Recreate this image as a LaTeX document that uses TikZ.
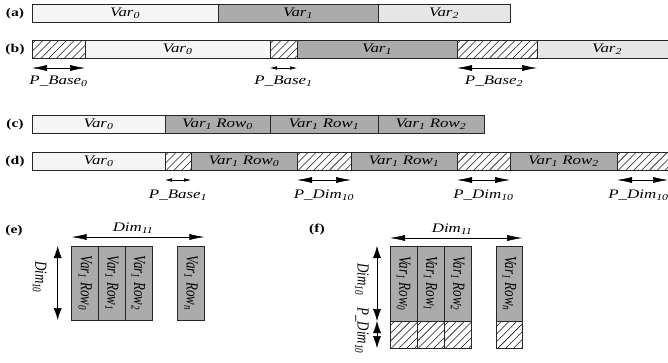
\documentclass[tikz,border=0pt]{standalone}
\usepackage{graphicx}
\usepackage{fontspec}
\setmainfont[FakeStretch=1.3]{Liberation Serif}
\newfontfamily\rotfont{Liberation Serif}
\usetikzlibrary{arrows.meta,calc}
\definecolor{varA}{HTML}{F5F5F5}
\definecolor{varB}{HTML}{ABABAB}
\definecolor{varC}{HTML}{E6E6E6}
\newcommand\rtxt[1]{\scalebox{1}[1.3]{\rotfont\itshape #1}}
\newcommand\hatchit[1]{%
  \begin{scope}
    \clip (#1.south west) rectangle (#1.north east);
    \foreach \k in {-100,-92.2,...,120}{\draw[hline] ($(#1.south west)+(\k,0)$) -- ++(110,-110);}
  \end{scope}
  \draw[cellborder] (#1.south west) rectangle (#1.north east);}
\tikzset{
  cellborder/.style={draw=black!85, line width=0.6pt},
  hline/.style={line width=0.55pt, black!90},
  cell/.style={cellborder, minimum height=18pt, inner sep=0pt, outer sep=0pt, anchor=north west, font=\fontsize{13}{15}\selectfont\itshape},
  v0/.style={cell, fill=varA},
  v1/.style={cell, fill=varB},
  v2/.style={cell, fill=varC},
  hatch/.style={cell, fill=white},
  col/.style={cell, fill=varB},
  lbl/.style={font=\fontsize{13}{15}\selectfont\itshape, inner sep=1pt},
  rlbl/.style={inner sep=1pt, rotate=-90, font=\fontsize{13}{15}\selectfont},
  tag/.style={font=\fontsize{12}{14}\selectfont\bfseries, inner sep=0pt},
  harrow/.style={line width=0.5pt, {Latex[length=15pt,width=6pt]}-{Latex[length=15pt,width=6pt]}},
  sarrow/.style={line width=0.5pt, {Latex[length=7pt,width=3.5pt]}-{Latex[length=7pt,width=3.5pt]}},
  varrow/.style={line width=0.5pt, {Latex[length=12pt,width=8pt]}-{Latex[length=12pt,width=8pt]}},
}
\begin{document}
\begin{tikzpicture}[x=1pt,y=-1pt]
\fill[white] (0,0) rectangle (668,362);
\useasboundingbox (0,0) rectangle (668,362);
% (a)
\node[tag] (ta) at (15,14) {(a)};
\node[v0, minimum width=186pt] (a0) at (32,4) {Var\textsubscript{0}};
\node[v1, minimum width=160pt] (a1) at (218,4) {Var\textsubscript{1}};
\node[v2, minimum width=132pt] (a2) at (378,4) {Var\textsubscript{2}};
% (b)
\node[tag] (tb) at (15,50) {(b)};
\node[hatch, minimum width=53pt] (bh0) at (32,40) {};
\node[v0, minimum width=185pt] (b0) at (85,40) {Var\textsubscript{0}};
\node[hatch, minimum width=27pt] (bh1) at (270,40) {};
\node[v1, minimum width=160pt] (b1) at (297,40) {Var\textsubscript{1}};
\node[hatch, minimum width=80pt] (bh2) at (457,40) {};
\node[v2, minimum width=140pt] (b2) at (537,40) {Var\textsubscript{2}};
\hatchit{bh0}\hatchit{bh1}\hatchit{bh2}
\draw[harrow] ([yshift=-10pt]bh0.south west) -- node[lbl, below=7pt] (pb0) {P\_Base\textsubscript{0}} ([yshift=-10pt]bh0.south east);
\draw[sarrow] ([yshift=-10pt]bh1.south west) -- node[lbl, below=7pt] (pb1) {P\_Base\textsubscript{1}} ([yshift=-10pt]bh1.south east);
\draw[harrow] ([yshift=-10pt]bh2.south west) -- node[lbl, below=7pt, xshift=-3pt] (pb2) {P\_Base\textsubscript{2}} ([yshift=-10pt]bh2.south east);
% (c)
\node[tag] (tc) at (15,125) {(c)};
\node[v0, minimum width=133pt] (c0) at (32,115) {Var\textsubscript{0}};
\node[v1, minimum width=105pt] (c1) at (165,115) {Var\textsubscript{1} Row\textsubscript{0}};
\node[v1, minimum width=108pt] (c2) at (270,115) {Var\textsubscript{1} Row\textsubscript{1}};
\node[v1, minimum width=106pt] (c3) at (378,115) {Var\textsubscript{1} Row\textsubscript{2}};
% (d)
\node[tag] (td) at (15,162) {(d)};
\node[v0, minimum width=133pt] (d0) at (32,152) {Var\textsubscript{0}};
\node[hatch, minimum width=26pt] (dh1) at (165,152) {};
\node[v1, minimum width=106pt] (d1) at (191,152) {Var\textsubscript{1} Row\textsubscript{0}};
\node[hatch, minimum width=54pt] (dh2) at (297,152) {};
\node[v1, minimum width=106pt] (d2) at (351,152) {Var\textsubscript{1} Row\textsubscript{1}};
\node[hatch, minimum width=53pt] (dh3) at (457,152) {};
\node[v1, minimum width=107pt] (d3) at (510,152) {Var\textsubscript{1} Row\textsubscript{2}};
\node[hatch, minimum width=60pt] (dh4) at (617,152) {};
\hatchit{dh1}\hatchit{dh2}\hatchit{dh3}\hatchit{dh4}
\coordinate (dend) at (668,180);
\draw[sarrow] ([yshift=-10pt]dh1.south west) -- node[lbl, below=9pt] (pd1) {P\_Base\textsubscript{1}} ([yshift=-10pt]dh1.south east);
\draw[harrow] ([yshift=-10pt]dh2.south west) -- node[lbl, below=9pt] (pd2) {P\_Dim\textsubscript{10}} ([yshift=-10pt]dh2.south east);
\draw[harrow] ([yshift=-10pt]dh3.south west) -- node[lbl, below=9pt] (pd3) {P\_Dim\textsubscript{10}} ([yshift=-10pt]dh3.south east);
\draw[harrow] ([yshift=-10pt]dh4.south west) -- node[lbl, below=9pt, xshift=-4pt] (pd4) {P\_Dim\textsubscript{10}} (dend);
% (e)
\node[tag] (te) at (14,231) {(e)};
\node[col, minimum width=26.7pt, minimum height=74pt] (e0) at (71.7,246) {};
\node[col, minimum width=26.7pt, minimum height=74pt] (e1) at (98.4,246) {};
\node[col, minimum width=26.7pt, minimum height=74pt] (e2) at (125.1,246) {};
\node[col, minimum width=26.7pt, minimum height=74pt] (en) at (177.7,246) {};
\node[rlbl] (e0t) at (e0.center) {\rtxt{Var\textsubscript{1} Row\textsubscript{0}}};
\node[rlbl] (e1t) at (e1.center) {\rtxt{Var\textsubscript{1} Row\textsubscript{1}}};
\node[rlbl] (e2t) at (e2.center) {\rtxt{Var\textsubscript{1} Row\textsubscript{2}}};
\node[rlbl] (ent) at (en.center) {\rtxt{Var\textsubscript{1} Row\textsubscript{n}}};
\draw[harrow] ([yshift=9pt]e0.north west) -- node[lbl, above=2pt, xshift=-5pt] (ed11) {Dim\textsubscript{11}} ([yshift=9pt]en.north east);
\draw[varrow] ([xshift=-14pt]e0.north west) -- ([xshift=-14pt]e0.south west);
\node[rlbl] (ed10) at ($(e0.west)+(-32,-6)$) {\rtxt{Dim\textsubscript{10}}};
% (f)
\node[tag] (tf) at (317,230) {(f)};
\node[col, minimum width=27pt, minimum height=75pt] (f0) at (390,246) {};
\node[col, minimum width=27pt, minimum height=75pt] (f1) at (417,246) {};
\node[col, minimum width=27.5pt, minimum height=75pt] (f2) at (444,246) {};
\node[col, minimum width=25.5pt, minimum height=75pt] (fn) at (496.7,246) {};
\node[hatch, minimum width=27pt, minimum height=27pt] (g0) at (390,321) {};
\node[hatch, minimum width=27pt, minimum height=27pt] (g1) at (417,321) {};
\node[hatch, minimum width=27.5pt, minimum height=27pt] (g2) at (444,321) {};
\node[hatch, minimum width=25.5pt, minimum height=27pt] (gn) at (496.7,321) {};
\hatchit{g0}\hatchit{g1}\hatchit{g2}\hatchit{gn}
\node[rlbl] (f0t) at (f0.center) {\rtxt{Var\textsubscript{1} Row\textsubscript{0}}};
\node[rlbl] (f1t) at (f1.center) {\rtxt{Var\textsubscript{1} Row\textsubscript{1}}};
\node[rlbl] (f2t) at (f2.center) {\rtxt{Var\textsubscript{1} Row\textsubscript{2}}};
\node[rlbl] (fnt) at (fn.center) {\rtxt{Var\textsubscript{1} Row\textsubscript{n}}};
\draw[harrow] ([yshift=8pt]f0.north west) -- node[lbl, above=2pt, xshift=-4pt] (fd11) {Dim\textsubscript{11}} ([yshift=8pt]fn.north east);
\draw[varrow] ([xshift=-13pt]f0.north west) -- ([xshift=-13pt]f0.south west);
\draw[varrow] ([xshift=-13pt]g0.north west) -- ([xshift=-13pt]g0.south west);
\node[rlbl] (fd10) at ($(f0.west)+(-28,-4)$) {\rtxt{Dim\textsubscript{10}}};
\node[rlbl] (fpd10) at ($(g0.west)+(-28,-4)$) {\rtxt{P\_Dim\textsubscript{10}}};
\end{tikzpicture}
\end{document}
